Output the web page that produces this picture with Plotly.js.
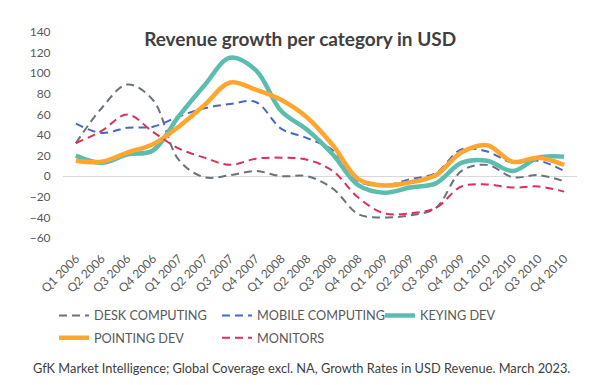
<!DOCTYPE html>
<html>
<head>
<meta charset="utf-8">
<script src="https://cdn.plot.ly/plotly-3.0.1.min.js"></script>
<style>html,body{margin:0;padding:0;background:#fff;}#chart{width:592px;height:385px;}</style>
</head>
<body>
<div id="chart"></div>
<script>
const quarters = ["Q1 2006","Q2 2006","Q3 2006","Q4 2006","Q1 2007","Q2 2007","Q3 2007","Q4 2007","Q1 2008","Q2 2008","Q3 2008","Q4 2008","Q1 2009","Q2 2009","Q3 2009","Q4 2009","Q1 2010","Q2 2010","Q3 2010","Q4 2010"];
const deskComputing   = [32, 66, 89, 74, 16, -1, 1, 5, 0, 0, -12, -37, -40, -38, -31, 5, 11, -1, 1, -5];
const mobileComputing = [51, 42, 47, 48, 58, 66, 70, 72, 46, 37, 25, -5, -9, -3, 3, 26, 24, 13, 15, 5];
const keyingDev       = [20, 13, 21, 25, 58, 88, 115, 103, 63, 45, 21, -9, -16, -11, -7, 13, 15, 5, 18, 19];
const pointingDev     = [15, 14, 23, 31, 48, 69, 91, 84, 74, 57, 30, -3, -9, -6, 1, 23, 30, 14, 18, 11];
const monitors        = [32, 44, 60, 43, 27, 18, 11, 17, 18, 16, 5, -21, -36, -36, -31, -10, -8, -11, -10, -15];

const font = "Lato, 'Open Sans', sans-serif";
const dashed = "8px,5px";
const traces = [
  {name: "DESK COMPUTING", y: deskComputing, line: {color: "#6b7279", width: 2, dash: dashed}, legend: "legend"},
  {name: "MOBILE COMPUTING", y: mobileComputing, line: {color: "#4468c8", width: 2, dash: dashed}, legend: "legend"},
  {name: "KEYING DEV", y: keyingDev, line: {color: "#5bbcb0", width: 4.5}, legend: "legend"},
  {name: "POINTING DEV", y: pointingDev, line: {color: "#ffa630", width: 4.5}, legend: "legend2"},
  {name: "MONITORS", y: monitors, line: {color: "#dc2f5c", width: 2, dash: dashed}, legend: "legend2"}
].map(t => Object.assign({x: quarters, type: "scatter", mode: "lines", hoverinfo: "skip"}, t, {line: Object.assign({shape: "spline", smoothing: 1}, t.line)}));

const legendCommon = {orientation: "h", xref: "container", yref: "container", xanchor: "left", yanchor: "middle",
  entrywidth: 118, font: {family: font, size: 12.7, color: "#595959"}, bgcolor: "rgba(0,0,0,0)", itemwidth: 30};

const layout = {
  width: 592, height: 385,
  margin: {l: 63, r: 15, t: 32, b: 147, pad: 0},
  paper_bgcolor: "#ffffff", plot_bgcolor: "#ffffff",
  font: {family: font, size: 12, color: "#595959"},
  title: {text: "<b>Revenue growth per category in USD</b>", font: {family: font, size: 19, color: "#404040"},
    xref: "container", yref: "container", x: 0.507, xanchor: "center", y: 1 - 39/385, yanchor: "middle"},
  xaxis: {type: "category", range: [-0.5, 19.5], showgrid: false, zeroline: false, showline: false,
    tickangle: -45, ticks: "outside", ticklen: 8, tickcolor: "rgba(0,0,0,0)",
    tickfont: {family: font, size: 12, color: "#595959"}, fixedrange: true},
  yaxis: {range: [-60, 140], dtick: 20, showgrid: false, zeroline: true, zerolinecolor: "#d9d9d9", zerolinewidth: 1,
    showline: false, ticks: "outside", ticklen: 9, tickcolor: "rgba(0,0,0,0)",
    tickfont: {family: font, size: 12, color: "#595959"}, fixedrange: true},
  showlegend: true,
  legend: Object.assign({x: 54/592, y: 1 - 315.7/385}, legendCommon),
  legend2: Object.assign({x: 54/592, y: 1 - 338/385}, legendCommon),
  annotations: [{text: "GfK Market Intelligence; Global Coverage excl. NA, Growth Rates in USD Revenue. March 2023.",
    xref: "paper", yref: "paper", x: (301.5 - 63) / 514, y: -(368 - 238.3) / 206.3, xanchor: "center", yanchor: "middle",
    showarrow: false, font: {family: font, size: 12.8, color: "#404040"}}]
};

Plotly.newPlot("chart", traces, layout, {staticPlot: true, displayModeBar: false});
</script>
</body>
</html>
